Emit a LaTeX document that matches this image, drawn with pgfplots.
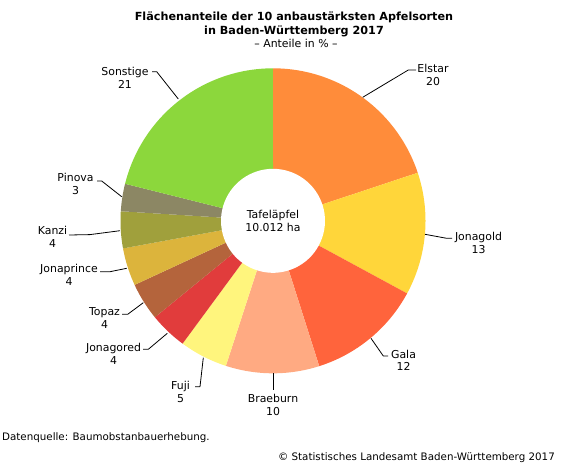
\documentclass[border=0pt]{standalone}
\usepackage{fontspec}
\setmainfont{DejaVu Sans}
\usepackage{pgfplots}
\pgfplotsset{compat=1.18}
% slice colours
\definecolor{cElstar}{HTML}{FF8C3A}
\definecolor{cJonagold}{HTML}{FFD63A}
\definecolor{cGala}{HTML}{FF643C}
\definecolor{cBraeburn}{HTML}{FFAA82}
\definecolor{cFuji}{HTML}{FFF57D}
\definecolor{cJonagored}{HTML}{E13C3C}
\definecolor{cTopaz}{HTML}{B4643C}
\definecolor{cJonaprince}{HTML}{DCB43C}
\definecolor{cKanzi}{HTML}{A0A03C}
\definecolor{cPinova}{HTML}{8C8764}
\definecolor{cSonstige}{HTML}{8CD73C}
\newcommand\lf{\fontsize{10.9bp}{12.8bp}\selectfont}
\newcommand\tf{\fontsize{11.2bp}{14.2bp}\selectfont\bfseries}
\newcommand\ff{\fontsize{10.3bp}{12.8bp}\selectfont}
% Shares in % (clockwise from top):
% Elstar 19.9, Jonagold 13.0, Gala 12.2, Braeburn 9.9, Fuji 5.1,
% Jonagored 4.0, Topaz 4.0, Jonaprince 4.0, Kanzi 3.9, Pinova 2.9, Sonstige 21.1
% Slices are plotted over their cumulative share interval (domain in %).
\begin{document}
\begin{tikzpicture}
\begin{axis}[hide axis, scale only axis, width=570bp, height=463bp,
  xmin=0, xmax=570, ymin=0, ymax=463, y dir=reverse, clip=false,
  every axis plot/.append style={line join=round}]
\pgfplotsset{slice/.style={draw=none, samples=80, variable=\p}}
% donut wedges: cumulative share -> angle (0 % at top, clockwise)
\addplot[slice, fill=cElstar,     domain=0:19.9]  ({273+152.5*cos(90-3.6*\p)},{220.8-152.5*sin(90-3.6*\p)}) -- (axis cs:273,220.8) -- cycle;
\addplot[slice, fill=cJonagold,   domain=19.9:32.9] ({273+152.5*cos(90-3.6*\p)},{220.8-152.5*sin(90-3.6*\p)}) -- (axis cs:273,220.8) -- cycle;
\addplot[slice, fill=cGala,       domain=32.9:45.1] ({273+152.5*cos(90-3.6*\p)},{220.8-152.5*sin(90-3.6*\p)}) -- (axis cs:273,220.8) -- cycle;
\addplot[slice, fill=cBraeburn,   domain=45.1:55.0] ({273+152.5*cos(90-3.6*\p)},{220.8-152.5*sin(90-3.6*\p)}) -- (axis cs:273,220.8) -- cycle;
\addplot[slice, fill=cFuji,       domain=55.0:60.1] ({273+152.5*cos(90-3.6*\p)},{220.8-152.5*sin(90-3.6*\p)}) -- (axis cs:273,220.8) -- cycle;
\addplot[slice, fill=cJonagored,  domain=60.1:64.1] ({273+152.5*cos(90-3.6*\p)},{220.8-152.5*sin(90-3.6*\p)}) -- (axis cs:273,220.8) -- cycle;
\addplot[slice, fill=cTopaz,      domain=64.1:68.1] ({273+152.5*cos(90-3.6*\p)},{220.8-152.5*sin(90-3.6*\p)}) -- (axis cs:273,220.8) -- cycle;
\addplot[slice, fill=cJonaprince, domain=68.1:72.1] ({273+152.5*cos(90-3.6*\p)},{220.8-152.5*sin(90-3.6*\p)}) -- (axis cs:273,220.8) -- cycle;
\addplot[slice, fill=cKanzi,      domain=72.1:76.0] ({273+152.5*cos(90-3.6*\p)},{220.8-152.5*sin(90-3.6*\p)}) -- (axis cs:273,220.8) -- cycle;
\addplot[slice, fill=cPinova,     domain=76.0:78.9] ({273+152.5*cos(90-3.6*\p)},{220.8-152.5*sin(90-3.6*\p)}) -- (axis cs:273,220.8) -- cycle;
\addplot[slice, fill=cSonstige,   domain=78.9:100]  ({273+152.5*cos(90-3.6*\p)},{220.8-152.5*sin(90-3.6*\p)}) -- (axis cs:273,220.8) -- cycle;
% hole
\addplot[slice, fill=white, domain=0:100] ({273+52*cos(90-3.6*\p)},{220.8-52*sin(90-3.6*\p)}) -- cycle;
% leader lines
\pgfplotsset{leader/.style={black, line width=0.8pt, mark=none}}
\addplot[leader] coordinates {(362.7,97.3) (408.3,70) (416,70)};
\addplot[leader] coordinates {(425,234.3) (446.7,238.3) (452,238.3)};
\addplot[leader] coordinates {(371,338.3) (383.3,356) (388,356)};
\addplot[leader] coordinates {(273,373.3) (273,390)};
\addplot[leader] coordinates {(203.3,357.7) (200,386.7) (195,386.7)};
\addplot[leader] coordinates {(167.3,333.3) (148.3,349.3) (143,349.3)};
\addplot[leader] coordinates {(143.3,302.7) (127.7,314.3) (122,314.3)};
\addplot[leader] coordinates {(126.7,268.3) (110,271.7) (100,271.7)};
\addplot[leader] coordinates {(120,230.7) (90,234.6) (69,235)};
\addplot[leader] coordinates {(121.7,196.7) (101.7,181) (97,181)};
\addplot[leader] coordinates {(178.3,99) (156.7,71.7) (152,71.7)};
% labels
\begin{scope}[every node/.style={align=center, font=\lf, inner sep=0pt}]
\node at (axis cs:433,75.2)   {Elstar\\20};
\node at (axis cs:478.5,242.6) {Jonagold\\13};
\node at (axis cs:403.5,360.3) {Gala\\12};
\node at (axis cs:273,404.8)  {Braeburn\\10};
\node at (axis cs:180.5,391.8) {Fuji\\5};
\node at (axis cs:113.5,354.2) {Jonagored\\4};
\node at (axis cs:104.5,317.8) {Topaz\\4};
\node at (axis cs:69,274.9) {Jonaprince\\4};
\node at (axis cs:52.5,236.8)   {Kanzi\\4};
\node at (axis cs:75.5,184.1)   {Pinova\\3};
\node at (axis cs:125,77.8)   {Sonstige\\21};
\node at (axis cs:273,221)    {Tafeläpfel\\10.012 ha};
\node[font=\tf] at (axis cs:294,24.5) {Flächenanteile der 10 anbaustärksten Apfelsorten\\in Baden-Württemberg 2017};
\node at (axis cs:296,43.8) {– Anteile in \% –};
\node[anchor=west, font=\ff] at (axis cs:2,438) {Datenquelle: Baumobstanbauerhebung.};
\node[anchor=east, font=\ff] at (axis cs:555,457.5) {© Statistisches Landesamt Baden-Württemberg 2017};
\end{scope}
\end{axis}
\pgfresetboundingbox
\path (current axis.south west) rectangle (current axis.north east);
\end{tikzpicture}
\end{document}
